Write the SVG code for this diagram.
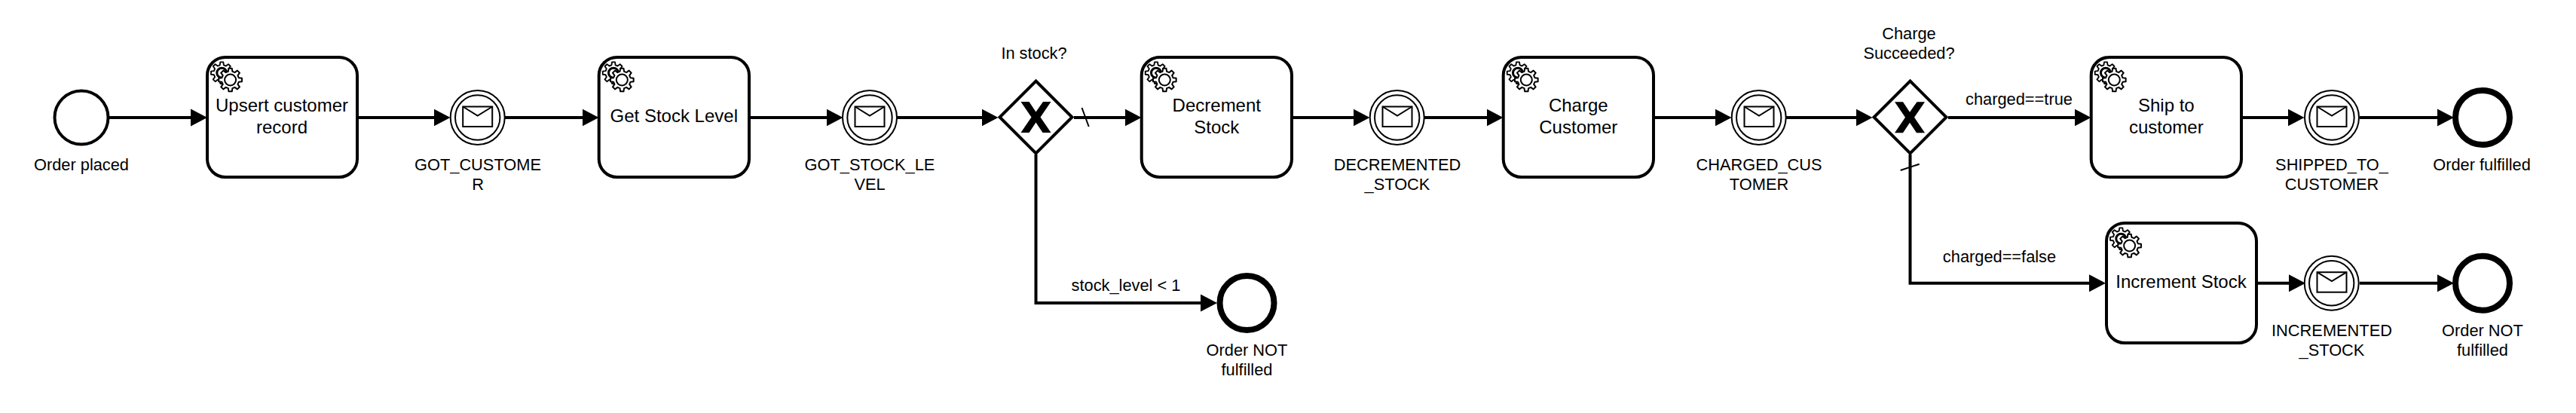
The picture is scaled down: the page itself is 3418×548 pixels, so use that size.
<svg xmlns="http://www.w3.org/2000/svg" width="3418" height="548" viewBox="0 0 3418 548">
<style>
text{font-family:"Liberation Sans",Arial,sans-serif;font-size:21.8px;fill:#000;text-anchor:middle}
.t{font-size:24px}
.task{fill:#fff;stroke:#000;stroke-width:4}
.start{fill:#fff;stroke:#000;stroke-width:4}
.end{fill:#fff;stroke:#000;stroke-width:8}
.ev{fill:#fff;stroke:#000;stroke-width:2}
.gw{fill:#fff;stroke:#000;stroke-width:4;stroke-miterlimit:10}
.c{fill:none;stroke:#000;stroke-width:4;marker-end:url(#a)}
.s{fill:none;stroke:#000;stroke-width:2}
.g{fill:#fff;stroke:#000;stroke-width:2;stroke-linejoin:round}
</style>
<defs>
<marker id="a" markerUnits="userSpaceOnUse" markerWidth="23" markerHeight="24" viewBox="0 0 23 24" refX="1" refY="12" orient="auto"><polygon points="0,0.5 22,12 0,23.5" fill="#000"/></marker>
<polygon id="gp" points="15.35,2.16 11.16,2.78 9.86,5.92 12.38,9.33 9.33,12.38 5.92,9.86 2.78,11.16 2.16,15.35 -2.16,15.35 -2.78,11.16 -5.92,9.86 -9.33,12.38 -12.38,9.33 -9.86,5.92 -11.16,2.78 -15.35,2.16 -15.35,-2.16 -11.16,-2.78 -9.86,-5.92 -12.38,-9.33 -9.33,-12.38 -5.92,-9.86 -2.78,-11.16 -2.16,-15.35 2.16,-15.35 2.78,-11.16 5.92,-9.86 9.33,-12.38 12.38,-9.33 9.86,-5.92 11.16,-2.78 15.35,-2.16"/>
<g id="gears">
<use href="#gp" class="g" transform="translate(21.3,22.7) scale(.93)"/>
<circle cx="21.3" cy="22.7" r="6.5" class="g" style="stroke-width:3"/>
<use href="#gp" class="g" transform="translate(32.6,32)"/>
<circle cx="32.6" cy="32" r="7.5" class="g"/>
</g>
<g id="env"><rect x="-19.5" y="-13.5" width="39" height="26.5" class="s"/><path d="M-19.5-13.5 0-1.5 19.5-13.5" class="s"/></g>
<polygon id="x" points="-20,-20.5 -9,-20.5 0,-7 9.5,-20.5 20,-20.5 6,0 20,20.5 9,20.5 0,7 -9,20.5 -20,20.5 -6,0"/>
</defs>
<g id="start"><circle cx="108" cy="156" r="35.5" class="start"/><text x="108" y="225.7">Order placed</text></g>
<g id="task-upsert"><rect x="275" y="76" width="199" height="159" rx="24" class="task"/><use href="#gears" x="273" y="74"/><text class="t" x="374" y="148">Upsert customer</text><text class="t" x="374" y="177">record</text></g>
<g id="ev-got-customer"><circle cx="633.7" cy="156" r="36" class="ev"/><circle cx="633.7" cy="156" r="29.7" class="ev"/><use href="#env" x="633.7" y="155"/><text x="634" y="225.7">GOT_CUSTOME</text><text x="634" y="251.7">R</text></g>
<g id="task-stock"><rect x="794.7" y="76" width="199.3" height="159" rx="24" class="task"/><use href="#gears" x="792.7" y="74"/><text class="t" x="894.3" y="161.7">Get Stock Level</text></g>
<g id="ev-got-stock"><circle cx="1154" cy="156" r="36" class="ev"/><circle cx="1154" cy="156" r="29.7" class="ev"/><use href="#env" x="1154" y="155"/><text x="1154" y="225.7">GOT_STOCK_LE</text><text x="1154" y="251.7">VEL</text></g>
<g id="gw-stock"><polygon points="1374.5,107.5 1422.5,155.5 1374.5,203.5 1326.5,155.5" class="gw"/><use href="#x" x="1374.5" y="155.5"/><text x="1372" y="78">In stock?</text></g>
<g id="task-decrement"><rect x="1514.7" y="76" width="199.3" height="159" rx="24" class="task"/><use href="#gears" x="1512.7" y="74"/><text class="t" x="1614.3" y="148">Decrement</text><text class="t" x="1614.3" y="177">Stock</text></g>
<g id="ev-decremented"><circle cx="1853.7" cy="156" r="36" class="ev"/><circle cx="1853.7" cy="156" r="29.7" class="ev"/><use href="#env" x="1854" y="155"/><text x="1854" y="225.7">DECREMENTED</text><text x="1854" y="251.7">_STOCK</text></g>
<g id="task-charge"><rect x="1994.7" y="76" width="199.3" height="159" rx="24" class="task"/><use href="#gears" x="1992.7" y="74"/><text class="t" x="2094.3" y="148">Charge</text><text class="t" x="2094.3" y="177">Customer</text></g>
<g id="ev-charged"><circle cx="2333.7" cy="156" r="36" class="ev"/><circle cx="2333.7" cy="156" r="29.7" class="ev"/><use href="#env" x="2334" y="155"/><text x="2334" y="225.7">CHARGED_CUS</text><text x="2334" y="251.7">TOMER</text></g>
<g id="gw-charge"><polygon points="2534.5,107.5 2582.5,155.5 2534.5,203.5 2486.5,155.5" class="gw"/><use href="#x" x="2534" y="155.7"/><text x="2533" y="51.7">Charge</text><text x="2533" y="77.7">Succeeded?</text></g>
<g id="task-ship"><rect x="2774.7" y="76" width="199.3" height="159" rx="24" class="task"/><use href="#gears" x="2772.7" y="74"/><text class="t" x="2874.3" y="148">Ship to</text><text class="t" x="2874.3" y="177">customer</text></g>
<g id="ev-shipped"><circle cx="3094" cy="156" r="36" class="ev"/><circle cx="3094" cy="156" r="29.7" class="ev"/><use href="#env" x="3094" y="155"/><text x="3094" y="225.7">SHIPPED_TO_</text><text x="3094" y="251.7">CUSTOMER</text></g>
<g id="end-fulfilled"><circle cx="3294" cy="156" r="36" class="end"/><text x="3293" y="225.7">Order fulfilled</text></g>
<g id="end-not-1"><circle cx="1654.5" cy="402" r="36" class="end"/><text x="1654.5" y="471.7">Order NOT</text><text x="1654.5" y="497.5">fulfilled</text></g>
<g id="task-increment"><rect x="2795" y="296" width="199" height="159" rx="24" class="task"/><use href="#gears" x="2793" y="294"/><text class="t" x="2894" y="381.7">Increment Stock</text></g>
<g id="ev-incremented"><circle cx="3093.7" cy="375.7" r="36" class="ev"/><circle cx="3093.7" cy="375.7" r="29.7" class="ev"/><use href="#env" x="3094" y="374.7"/><text x="3094" y="445.7">INCREMENTED</text><text x="3094" y="471.7">_STOCK</text></g>
<g id="end-not-2"><circle cx="3294" cy="375.7" r="36" class="end"/><text x="3294" y="445.7">Order NOT</text><text x="3294" y="471.7">fulfilled</text></g>
<g id="connectors">
<path class="c" d="M145 156H254"/>
<path class="c" d="M475 156H576.5"/>
<path class="c" d="M670 156H773.5"/>
<path class="c" d="M996 156H1097.5"/>
<path class="c" d="M1190 156H1303.5"/>
<path class="c" d="M1425 156H1493.5"/>
<path class="s" d="M1435.5 143 1444.7 168"/>
<path class="c" d="M1716 156H1796.5"/>
<path class="c" d="M1890 156H1973.5"/>
<path class="c" d="M2196 156H2276.5"/>
<path class="c" d="M2370 156H2463.5"/>
<path class="c" d="M2585 156H2753.5"/>
<path class="c" d="M2976 156H3036.5"/>
<path class="c" d="M3131 156H3235"/>
<path class="c" d="M1374.5 205V402H1594"/>
<path class="c" d="M2534.5 205V375.7H2773"/>
<path class="s" d="M2521.7 226 2546.7 217.7"/>
<path class="c" d="M2995 375.7H3038"/>
<path class="c" d="M3131 375.7H3235"/>
<text x="1494" y="386">stock_level &lt; 1</text>
<text x="2679" y="139">charged==true</text>
<text x="2653" y="347.7">charged==false</text>
</g>
</svg>
